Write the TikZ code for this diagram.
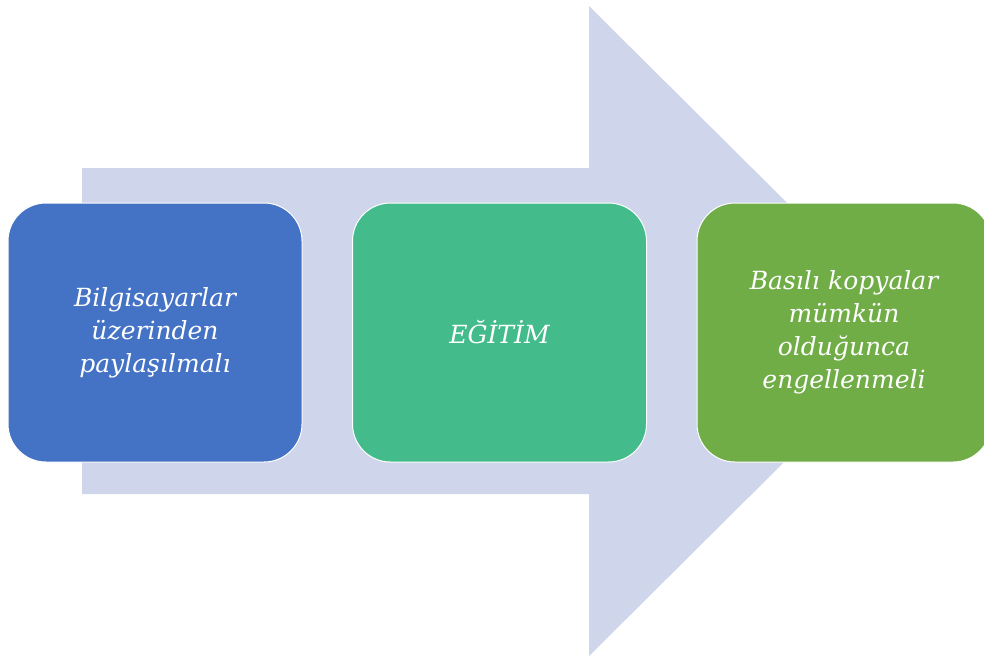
\documentclass[tikz,border=0pt]{standalone}
\usepackage{fontspec}
\setmainfont{DejaVu Serif}
\usetikzlibrary{positioning}
\definecolor{arrowgray}{HTML}{CFD5EA}
\definecolor{boxblue}{HTML}{4472C4}
\definecolor{boxteal}{HTML}{44BB8B}
\definecolor{boxgreen}{HTML}{70AD47}
\tikzset{
  stepbox/.style={rectangle, rounded corners=38pt, draw=white, line width=1pt,
    minimum width=294pt, minimum height=259pt, text width=250pt, align=center,
    text=white, font=\fontsize{25}{33}\selectfont\itshape}
}

\begin{document}
\begin{tikzpicture}[x=1pt, y=-1pt]
      \useasboundingbox (0, 0) rectangle (984, 657);
      \clip (0, 0) rectangle (984, 657);

      % big arrow behind the boxes
      \fill [arrowgray] (82, 168) -- (589, 168) -- (589, 6) -- (916, 331)
        -- (589, 656) -- (589, 494) -- (82, 494) -- cycle;

      \node [stepbox, fill=boxblue] (paylas) at (155, 332.5) {Bilgisayarlar\\ üzerinden\\ paylaşılmalı};
      \node [stepbox, fill=boxteal] (egitim) at (499.5, 332.5) {EĞİTİM};
      \node [stepbox, fill=boxgreen] (basili) at (844, 332.5) {Basılı kopyalar\\ mümkün\\ olduğunca\\ engellenmeli};
    \end{tikzpicture}
\end{document}
